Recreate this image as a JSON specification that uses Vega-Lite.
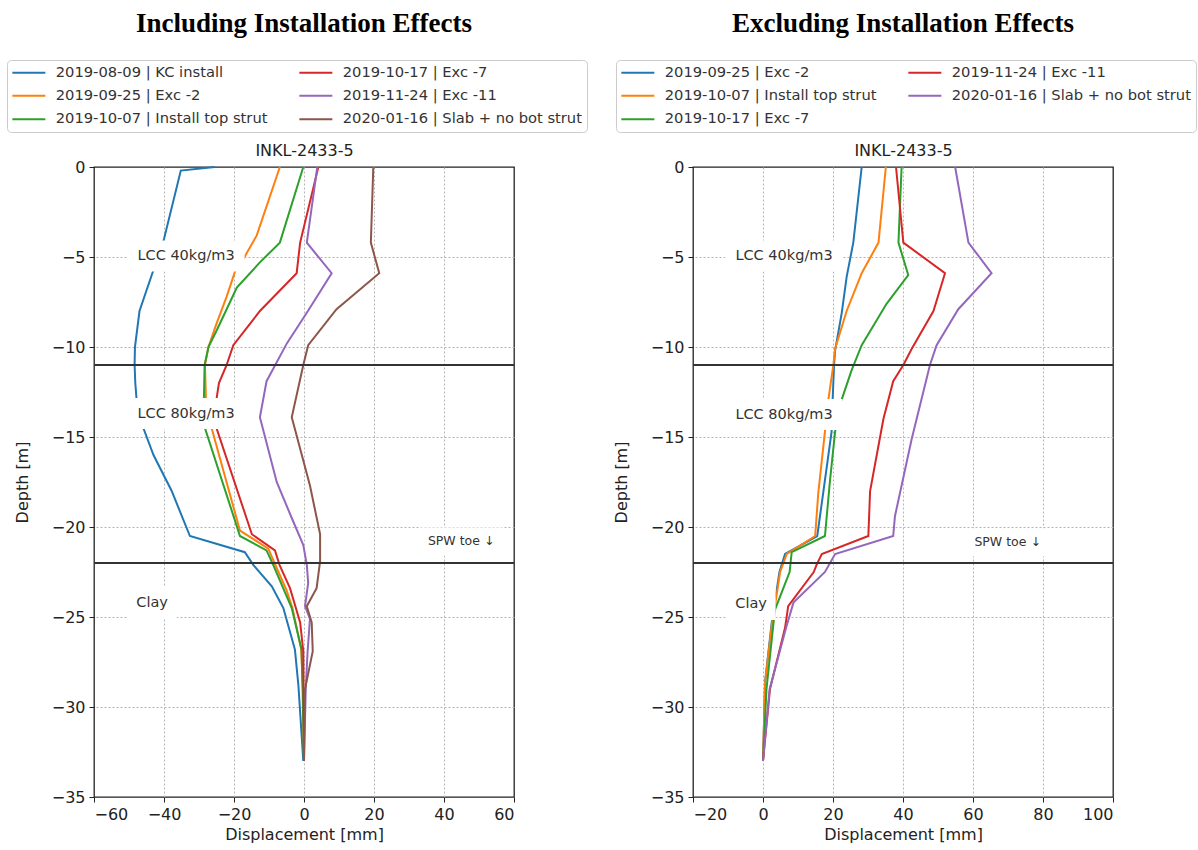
{
  "$schema": "https://vega.github.io/schema/vega-lite/v6.json",
  "background": "white",
  "padding": {"left": 5, "top": 8, "right": 3, "bottom": 5},
  "datasets": {
    "incl": [
      {"series": "2019-08-09 | KC install", "depth": 0, "disp": -25.5},
      {"series": "2019-08-09 | KC install", "depth": -0.2, "disp": -35.2},
      {"series": "2019-08-09 | KC install", "depth": -4, "disp": -40},
      {"series": "2019-08-09 | KC install", "depth": -6, "disp": -43.5},
      {"series": "2019-08-09 | KC install", "depth": -8, "disp": -47},
      {"series": "2019-08-09 | KC install", "depth": -10, "disp": -48.3},
      {"series": "2019-08-09 | KC install", "depth": -11, "disp": -48.4},
      {"series": "2019-08-09 | KC install", "depth": -12, "disp": -48.2},
      {"series": "2019-08-09 | KC install", "depth": -13, "disp": -47.8},
      {"series": "2019-08-09 | KC install", "depth": -14.5, "disp": -45.9},
      {"series": "2019-08-09 | KC install", "depth": -16, "disp": -43},
      {"series": "2019-08-09 | KC install", "depth": -18, "disp": -37.8},
      {"series": "2019-08-09 | KC install", "depth": -20.5, "disp": -32.6},
      {"series": "2019-08-09 | KC install", "depth": -21.4, "disp": -16.9},
      {"series": "2019-08-09 | KC install", "depth": -22.1, "disp": -14.5},
      {"series": "2019-08-09 | KC install", "depth": -23.3, "disp": -9.2},
      {"series": "2019-08-09 | KC install", "depth": -24.5, "disp": -5.9},
      {"series": "2019-08-09 | KC install", "depth": -26.8, "disp": -2.6},
      {"series": "2019-08-09 | KC install", "depth": -28.8, "disp": -1.6},
      {"series": "2019-08-09 | KC install", "depth": -33, "disp": -0.2},

      {"series": "2019-09-25 | Exc -2", "depth": 0, "disp": -6.9},
      {"series": "2019-09-25 | Exc -2", "depth": -3.8, "disp": -13.5},
      {"series": "2019-09-25 | Exc -2", "depth": -5.1, "disp": -17.3},
      {"series": "2019-09-25 | Exc -2", "depth": -5.8, "disp": -19.7},
      {"series": "2019-09-25 | Exc -2", "depth": -7.2, "disp": -22.1},
      {"series": "2019-09-25 | Exc -2", "depth": -8.7, "disp": -25},
      {"series": "2019-09-25 | Exc -2", "depth": -10, "disp": -27.3},
      {"series": "2019-09-25 | Exc -2", "depth": -11, "disp": -28.3},
      {"series": "2019-09-25 | Exc -2", "depth": -12.9, "disp": -28},
      {"series": "2019-09-25 | Exc -2", "depth": -14.5, "disp": -26.4},
      {"series": "2019-09-25 | Exc -2", "depth": -20.2, "disp": -18.3},
      {"series": "2019-09-25 | Exc -2", "depth": -21.2, "disp": -10.2},
      {"series": "2019-09-25 | Exc -2", "depth": -22.5, "disp": -7.3},
      {"series": "2019-09-25 | Exc -2", "depth": -23.5, "disp": -5},
      {"series": "2019-09-25 | Exc -2", "depth": -24.5, "disp": -3.3},
      {"series": "2019-09-25 | Exc -2", "depth": -26.8, "disp": -0.8},
      {"series": "2019-09-25 | Exc -2", "depth": -29, "disp": -0.3},
      {"series": "2019-09-25 | Exc -2", "depth": -33, "disp": 0},

      {"series": "2019-10-07 | Install top strut", "depth": 0, "disp": -0.2},
      {"series": "2019-10-07 | Install top strut", "depth": -4.2, "disp": -6.9},
      {"series": "2019-10-07 | Install top strut", "depth": -5.3, "disp": -12.6},
      {"series": "2019-10-07 | Install top strut", "depth": -6.7, "disp": -19.2},
      {"series": "2019-10-07 | Install top strut", "depth": -7.9, "disp": -22.1},
      {"series": "2019-10-07 | Install top strut", "depth": -9.1, "disp": -25},
      {"series": "2019-10-07 | Install top strut", "depth": -10, "disp": -27.3},
      {"series": "2019-10-07 | Install top strut", "depth": -11, "disp": -28.4},
      {"series": "2019-10-07 | Install top strut", "depth": -12.9, "disp": -28.6},
      {"series": "2019-10-07 | Install top strut", "depth": -14.5, "disp": -28.3},
      {"series": "2019-10-07 | Install top strut", "depth": -20.5, "disp": -18.3},
      {"series": "2019-10-07 | Install top strut", "depth": -21.3, "disp": -10.7},
      {"series": "2019-10-07 | Install top strut", "depth": -22.1, "disp": -8.8},
      {"series": "2019-10-07 | Install top strut", "depth": -24.5, "disp": -3.5},
      {"series": "2019-10-07 | Install top strut", "depth": -26.8, "disp": -0.7},
      {"series": "2019-10-07 | Install top strut", "depth": -29, "disp": -0.4},
      {"series": "2019-10-07 | Install top strut", "depth": -33, "disp": 0},

      {"series": "2019-10-17 | Exc -7", "depth": 0, "disp": 4.1},
      {"series": "2019-10-17 | Exc -7", "depth": -4.2, "disp": -1.1},
      {"series": "2019-10-17 | Exc -7", "depth": -5.9, "disp": -2.1},
      {"series": "2019-10-17 | Exc -7", "depth": -8, "disp": -12.6},
      {"series": "2019-10-17 | Exc -7", "depth": -9.9, "disp": -20.2},
      {"series": "2019-10-17 | Exc -7", "depth": -11, "disp": -22.1},
      {"series": "2019-10-17 | Exc -7", "depth": -12, "disp": -24.3},
      {"series": "2019-10-17 | Exc -7", "depth": -12.9, "disp": -25},
      {"series": "2019-10-17 | Exc -7", "depth": -14.5, "disp": -25},
      {"series": "2019-10-17 | Exc -7", "depth": -20.4, "disp": -14.9},
      {"series": "2019-10-17 | Exc -7", "depth": -21.3, "disp": -8.3},
      {"series": "2019-10-17 | Exc -7", "depth": -22.1, "disp": -7},
      {"series": "2019-10-17 | Exc -7", "depth": -23.4, "disp": -4},
      {"series": "2019-10-17 | Exc -7", "depth": -25.3, "disp": -1.1},
      {"series": "2019-10-17 | Exc -7", "depth": -26.9, "disp": -0.2},
      {"series": "2019-10-17 | Exc -7", "depth": -33, "disp": 0},

      {"series": "2019-11-24 | Exc -11", "depth": 0, "disp": 3.8},
      {"series": "2019-11-24 | Exc -11", "depth": -4.2, "disp": 0.8},
      {"series": "2019-11-24 | Exc -11", "depth": -5.9, "disp": 7.9},
      {"series": "2019-11-24 | Exc -11", "depth": -8.1, "disp": 0.8},
      {"series": "2019-11-24 | Exc -11", "depth": -9.8, "disp": -4.9},
      {"series": "2019-11-24 | Exc -11", "depth": -11.9, "disp": -10.7},
      {"series": "2019-11-24 | Exc -11", "depth": -13.9, "disp": -12.6},
      {"series": "2019-11-24 | Exc -11", "depth": -17.5, "disp": -7.8},
      {"series": "2019-11-24 | Exc -11", "depth": -19.5, "disp": -3.5},
      {"series": "2019-11-24 | Exc -11", "depth": -21, "disp": -0.2},
      {"series": "2019-11-24 | Exc -11", "depth": -22.1, "disp": 0.8},
      {"series": "2019-11-24 | Exc -11", "depth": -23.1, "disp": 1.2},
      {"series": "2019-11-24 | Exc -11", "depth": -24.4, "disp": 0.3},
      {"series": "2019-11-24 | Exc -11", "depth": -25.1, "disp": 1.7},
      {"series": "2019-11-24 | Exc -11", "depth": -27, "disp": 1},
      {"series": "2019-11-24 | Exc -11", "depth": -29, "disp": 0.5},
      {"series": "2019-11-24 | Exc -11", "depth": -33, "disp": 0},

      {"series": "2020-01-16 | Slab + no bot strut", "depth": 0, "disp": 19.8},
      {"series": "2020-01-16 | Slab + no bot strut", "depth": -4.2, "disp": 19.1},
      {"series": "2020-01-16 | Slab + no bot strut", "depth": -5.9, "disp": 21.5},
      {"series": "2020-01-16 | Slab + no bot strut", "depth": -7.9, "disp": 9.3},
      {"series": "2020-01-16 | Slab + no bot strut", "depth": -9.9, "disp": 1.2},
      {"series": "2020-01-16 | Slab + no bot strut", "depth": -11, "disp": -0.2},
      {"series": "2020-01-16 | Slab + no bot strut", "depth": -13.9, "disp": -3.5},
      {"series": "2020-01-16 | Slab + no bot strut", "depth": -17.7, "disp": 1.7},
      {"series": "2020-01-16 | Slab + no bot strut", "depth": -20.4, "disp": 4.6},
      {"series": "2020-01-16 | Slab + no bot strut", "depth": -21.9, "disp": 4.6},
      {"series": "2020-01-16 | Slab + no bot strut", "depth": -23.4, "disp": 3.6},
      {"series": "2020-01-16 | Slab + no bot strut", "depth": -24.4, "disp": 0.8},
      {"series": "2020-01-16 | Slab + no bot strut", "depth": -25.3, "disp": 2.2},
      {"series": "2020-01-16 | Slab + no bot strut", "depth": -26.9, "disp": 2.5},
      {"series": "2020-01-16 | Slab + no bot strut", "depth": -29, "disp": 0.3},
      {"series": "2020-01-16 | Slab + no bot strut", "depth": -33, "disp": 0}
    ],
    "excl": [
      {"series": "2019-09-25 | Exc -2", "depth": 0, "disp": 28.2},
      {"series": "2019-09-25 | Exc -2", "depth": -4.2, "disp": 25.8},
      {"series": "2019-09-25 | Exc -2", "depth": -6.1, "disp": 23.9},
      {"series": "2019-09-25 | Exc -2", "depth": -8.1, "disp": 22.5},
      {"series": "2019-09-25 | Exc -2", "depth": -10.2, "disp": 20.6},
      {"series": "2019-09-25 | Exc -2", "depth": -11, "disp": 20.3},
      {"series": "2019-09-25 | Exc -2", "depth": -12.9, "disp": 19.9},
      {"series": "2019-09-25 | Exc -2", "depth": -14.7, "disp": 19.6},
      {"series": "2019-09-25 | Exc -2", "depth": -18.1, "disp": 17.2},
      {"series": "2019-09-25 | Exc -2", "depth": -20.5, "disp": 15.5},
      {"series": "2019-09-25 | Exc -2", "depth": -21.5, "disp": 6.3},
      {"series": "2019-09-25 | Exc -2", "depth": -22.5, "disp": 4.7},
      {"series": "2019-09-25 | Exc -2", "depth": -24.4, "disp": 3.2},
      {"series": "2019-09-25 | Exc -2", "depth": -25.3, "disp": 2.5},
      {"series": "2019-09-25 | Exc -2", "depth": -28.6, "disp": 0.6},
      {"series": "2019-09-25 | Exc -2", "depth": -33, "disp": 0},

      {"series": "2019-10-07 | Install top strut", "depth": 0, "disp": 35.1},
      {"series": "2019-10-07 | Install top strut", "depth": -4.2, "disp": 33},
      {"series": "2019-10-07 | Install top strut", "depth": -5.9, "disp": 28.2},
      {"series": "2019-10-07 | Install top strut", "depth": -8, "disp": 23.9},
      {"series": "2019-10-07 | Install top strut", "depth": -10.1, "disp": 20.6},
      {"series": "2019-10-07 | Install top strut", "depth": -11, "disp": 20.1},
      {"series": "2019-10-07 | Install top strut", "depth": -12.9, "disp": 18.7},
      {"series": "2019-10-07 | Install top strut", "depth": -14.7, "disp": 17.7},
      {"series": "2019-10-07 | Install top strut", "depth": -18.1, "disp": 15.8},
      {"series": "2019-10-07 | Install top strut", "depth": -20.5, "disp": 14.9},
      {"series": "2019-10-07 | Install top strut", "depth": -21.5, "disp": 6.8},
      {"series": "2019-10-07 | Install top strut", "depth": -22.5, "disp": 4.9},
      {"series": "2019-10-07 | Install top strut", "depth": -24.4, "disp": 3.4},
      {"series": "2019-10-07 | Install top strut", "depth": -25.3, "disp": 2.6},
      {"series": "2019-10-07 | Install top strut", "depth": -28.6, "disp": 0.6},
      {"series": "2019-10-07 | Install top strut", "depth": -33, "disp": 0},

      {"series": "2019-10-17 | Exc -7", "depth": 0, "disp": 39.6},
      {"series": "2019-10-17 | Exc -7", "depth": -4.2, "disp": 38.7},
      {"series": "2019-10-17 | Exc -7", "depth": -6, "disp": 41.5},
      {"series": "2019-10-17 | Exc -7", "depth": -7.6, "disp": 35.3},
      {"series": "2019-10-17 | Exc -7", "depth": -9.9, "disp": 28.2},
      {"series": "2019-10-17 | Exc -7", "depth": -11.3, "disp": 25.3},
      {"series": "2019-10-17 | Exc -7", "depth": -13.2, "disp": 22},
      {"series": "2019-10-17 | Exc -7", "depth": -14.7, "disp": 20.6},
      {"series": "2019-10-17 | Exc -7", "depth": -17.5, "disp": 19.1},
      {"series": "2019-10-17 | Exc -7", "depth": -20.5, "disp": 17.7},
      {"series": "2019-10-17 | Exc -7", "depth": -21.4, "disp": 8.2},
      {"series": "2019-10-17 | Exc -7", "depth": -22.5, "disp": 7.6},
      {"series": "2019-10-17 | Exc -7", "depth": -24.6, "disp": 3.4},
      {"series": "2019-10-17 | Exc -7", "depth": -29, "disp": 1},
      {"series": "2019-10-17 | Exc -7", "depth": -33, "disp": 0},

      {"series": "2019-11-24 | Exc -11", "depth": 0, "disp": 38},
      {"series": "2019-11-24 | Exc -11", "depth": -4.2, "disp": 40.1},
      {"series": "2019-11-24 | Exc -11", "depth": -5.9, "disp": 52},
      {"series": "2019-11-24 | Exc -11", "depth": -8, "disp": 48.7},
      {"series": "2019-11-24 | Exc -11", "depth": -10.1, "disp": 42.5},
      {"series": "2019-11-24 | Exc -11", "depth": -11, "disp": 40.1},
      {"series": "2019-11-24 | Exc -11", "depth": -11.9, "disp": 37.2},
      {"series": "2019-11-24 | Exc -11", "depth": -14, "disp": 34.4},
      {"series": "2019-11-24 | Exc -11", "depth": -18, "disp": 30.6},
      {"series": "2019-11-24 | Exc -11", "depth": -20.5, "disp": 30.1},
      {"series": "2019-11-24 | Exc -11", "depth": -21.5, "disp": 16.8},
      {"series": "2019-11-24 | Exc -11", "depth": -22.1, "disp": 15.3},
      {"series": "2019-11-24 | Exc -11", "depth": -22.5, "disp": 14.5},
      {"series": "2019-11-24 | Exc -11", "depth": -24.4, "disp": 7.2},
      {"series": "2019-11-24 | Exc -11", "depth": -25.6, "disp": 6.3},
      {"series": "2019-11-24 | Exc -11", "depth": -29, "disp": 2},
      {"series": "2019-11-24 | Exc -11", "depth": -33, "disp": 0},

      {"series": "2020-01-16 | Slab + no bot strut", "depth": 0, "disp": 54.9},
      {"series": "2020-01-16 | Slab + no bot strut", "depth": -4.2, "disp": 58.7},
      {"series": "2020-01-16 | Slab + no bot strut", "depth": -5.9, "disp": 65.3},
      {"series": "2020-01-16 | Slab + no bot strut", "depth": -7.9, "disp": 55.8},
      {"series": "2020-01-16 | Slab + no bot strut", "depth": -9.9, "disp": 49.6},
      {"series": "2020-01-16 | Slab + no bot strut", "depth": -11, "disp": 47.7},
      {"series": "2020-01-16 | Slab + no bot strut", "depth": -15.1, "disp": 42.5},
      {"series": "2020-01-16 | Slab + no bot strut", "depth": -19.4, "disp": 37.7},
      {"series": "2020-01-16 | Slab + no bot strut", "depth": -20.5, "disp": 37.2},
      {"series": "2020-01-16 | Slab + no bot strut", "depth": -21.5, "disp": 20.6},
      {"series": "2020-01-16 | Slab + no bot strut", "depth": -22.5, "disp": 17.7},
      {"series": "2020-01-16 | Slab + no bot strut", "depth": -24.2, "disp": 8.7},
      {"series": "2020-01-16 | Slab + no bot strut", "depth": -25.6, "disp": 6.6},
      {"series": "2020-01-16 | Slab + no bot strut", "depth": -29, "disp": 1.9},
      {"series": "2020-01-16 | Slab + no bot strut", "depth": -33, "disp": 0}
    ],
    "layers": [{"depth": -11}, {"depth": -22}],
    "notesIncl": [
      {"label": "LCC 40kg/m3", "x": -33.7, "depth": -4.95},
      {"label": "LCC 80kg/m3", "x": -33.7, "depth": -13.7},
      {"label": "Clay", "x": -43.4, "depth": -24.2},
      {"label": "SPW toe ↓", "x": 44.9, "depth": -20.8}
    ],
    "notesExcl": [
      {"label": "LCC 40kg/m3", "x": 6, "depth": -4.95},
      {"label": "LCC 80kg/m3", "x": 6, "depth": -13.75},
      {"label": "Clay", "x": -3.4, "depth": -24.3},
      {"label": "SPW toe ↓", "x": 69.9, "depth": -20.85}
    ]
  },
  "hconcat": [
    {
      "width": 420,
      "height": 630,
      "title": {"text": "Including Installation Effects"},
      "layer": [
        {
          "data": {"name": "incl"},
          "mark": {"type": "line", "strokeWidth": 2},
          "encoding": {
            "x": {"field": "disp", "type": "quantitative", "scale": {"domain": [-60, 60], "nice": false, "zero": false},
                  "axis": {"title": "Displacement [mm]", "values": [-60, -40, -20, 0, 20, 40, 60], "grid": false}},
            "y": {"field": "depth", "type": "quantitative", "scale": {"domain": [-35, 0], "nice": false, "zero": false},
                  "axis": {"title": "Depth [m]", "values": [-35, -30, -25, -20, -15, -10, -5, 0], "grid": false}},
            "order": {"field": "depth", "sort": "descending"},
            "color": {"field": "series", "type": "nominal",
              "scale": {
                "domain": ["2019-08-09 | KC install", "2019-09-25 | Exc -2", "2019-10-07 | Install top strut", "2019-10-17 | Exc -7", "2019-11-24 | Exc -11", "2020-01-16 | Slab + no bot strut"],
                "range": ["#1f77b4", "#ff7f0e", "#2ca02c", "#d62728", "#9467bd", "#8c564b"]},
              "legend": {"title": null, "orient": "none", "legendX": -87, "legendY": -107, "columns": 2}}
          }
        },
        {
          "data": {"name": "layers"},
          "mark": {"type": "rule", "color": "#333333", "strokeWidth": 2.2},
          "encoding": {"y": {"field": "depth", "type": "quantitative",
            "axis": {"values": [-30, -25, -20, -15, -10, -5], "grid": true, "labels": false, "ticks": false, "domain": false, "title": null}}}
        },
        {
          "data": {"name": "notesIncl"},
          "mark": {"type": "point", "filled": true, "color": "white", "opacity": 1, "size": 400, "strokeWidth": 0},
          "encoding": {
            "x": {"field": "x", "type": "quantitative",
              "axis": {"values": [-40, -20, 0, 20, 40], "grid": true, "labels": false, "ticks": false, "domain": false, "title": null}},
            "y": {"field": "depth", "type": "quantitative", "axis": null},
            "shape": {"field": "label", "type": "nominal", "legend": null,
              "scale": {"domain": ["LCC 40kg/m3", "LCC 80kg/m3", "Clay", "SPW toe ↓"],
                "range": ["M-5.85,-1.55L5.85,-1.55L5.85,1.55L-5.85,1.55Z", "M-5.85,-1.55L5.85,-1.55L5.85,1.55L-5.85,1.55Z", "M-2.45,-1.55L2.45,-1.55L2.45,1.55L-2.45,1.55Z", "M-4.2,-1.4L4.2,-1.4L4.2,1.4L-4.2,1.4Z"]}}
          }
        },
        {
          "data": {"name": "notesIncl"},
          "transform": [{"filter": "datum.label !== 'SPW toe ↓'"}],
          "mark": {"type": "text", "fontSize": 14.5, "color": "#333333", "font": "DejaVu Sans", "align": "center", "baseline": "middle"},
          "encoding": {
            "x": {"field": "x", "type": "quantitative",
                  "axis": {"orient": "top", "title": "INKL-2433-5", "labels": false, "ticks": false, "domain": false, "grid": false, "titlePadding": 9}},
            "y": {"field": "depth", "type": "quantitative", "axis": null},
            "text": {"field": "label"}
          }
        },
        {
          "data": {"name": "notesIncl"},
          "transform": [{"filter": "datum.label === 'SPW toe ↓'"}],
          "mark": {"type": "text", "fontSize": 12.5, "color": "#333333", "font": "DejaVu Sans", "align": "center", "baseline": "middle"},
          "encoding": {
            "x": {"field": "x", "type": "quantitative", "axis": null},
            "y": {"field": "depth", "type": "quantitative", "axis": null},
            "text": {"field": "label"}
          }
        }
      ],
      "resolve": {"axis": {"x": "independent", "y": "independent"}}
    },
    {
      "width": 420,
      "height": 630,
      "title": {"text": "Excluding Installation Effects"},
      "layer": [
        {
          "data": {"name": "excl"},
          "mark": {"type": "line", "strokeWidth": 2},
          "encoding": {
            "x": {"field": "disp", "type": "quantitative", "scale": {"domain": [-20, 100], "nice": false, "zero": false},
                  "axis": {"title": "Displacement [mm]", "values": [-20, 0, 20, 40, 60, 80, 100], "grid": false}},
            "y": {"field": "depth", "type": "quantitative", "scale": {"domain": [-35, 0], "nice": false, "zero": false},
                  "axis": {"title": "Depth [m]", "values": [-35, -30, -25, -20, -15, -10, -5, 0], "grid": false}},
            "order": {"field": "depth", "sort": "descending"},
            "color": {"field": "series", "type": "nominal",
              "scale": {
                "domain": ["2019-09-25 | Exc -2", "2019-10-07 | Install top strut", "2019-10-17 | Exc -7", "2019-11-24 | Exc -11", "2020-01-16 | Slab + no bot strut"],
                "range": ["#1f77b4", "#ff7f0e", "#2ca02c", "#d62728", "#9467bd"]},
              "legend": {"title": null, "orient": "none", "legendX": -77, "legendY": -107, "columns": 2}}
          }
        },
        {
          "data": {"name": "layers"},
          "mark": {"type": "rule", "color": "#333333", "strokeWidth": 2.2},
          "encoding": {"y": {"field": "depth", "type": "quantitative",
            "axis": {"values": [-30, -25, -20, -15, -10, -5], "grid": true, "labels": false, "ticks": false, "domain": false, "title": null}}}
        },
        {
          "data": {"name": "notesExcl"},
          "mark": {"type": "point", "filled": true, "color": "white", "opacity": 1, "size": 400, "strokeWidth": 0},
          "encoding": {
            "x": {"field": "x", "type": "quantitative",
              "axis": {"values": [0, 20, 40, 60, 80], "grid": true, "labels": false, "ticks": false, "domain": false, "title": null}},
            "y": {"field": "depth", "type": "quantitative", "axis": null},
            "shape": {"field": "label", "type": "nominal", "legend": null,
              "scale": {"domain": ["LCC 40kg/m3", "LCC 80kg/m3", "Clay", "SPW toe ↓"],
                "range": ["M-5.85,-1.55L5.85,-1.55L5.85,1.55L-5.85,1.55Z", "M-5.85,-1.55L5.85,-1.55L5.85,1.55L-5.85,1.55Z", "M-2.45,-1.55L2.45,-1.55L2.45,1.55L-2.45,1.55Z", "M-4.2,-1.4L4.2,-1.4L4.2,1.4L-4.2,1.4Z"]}}
          }
        },
        {
          "data": {"name": "notesExcl"},
          "transform": [{"filter": "datum.label !== 'SPW toe ↓'"}],
          "mark": {"type": "text", "fontSize": 14.5, "color": "#333333", "font": "DejaVu Sans", "align": "center", "baseline": "middle"},
          "encoding": {
            "x": {"field": "x", "type": "quantitative",
                  "axis": {"orient": "top", "title": "INKL-2433-5", "labels": false, "ticks": false, "domain": false, "grid": false, "titlePadding": 9}},
            "y": {"field": "depth", "type": "quantitative", "axis": null},
            "text": {"field": "label"}
          }
        },
        {
          "data": {"name": "notesExcl"},
          "transform": [{"filter": "datum.label === 'SPW toe ↓'"}],
          "mark": {"type": "text", "fontSize": 12.5, "color": "#333333", "font": "DejaVu Sans", "align": "center", "baseline": "middle"},
          "encoding": {
            "x": {"field": "x", "type": "quantitative", "axis": null},
            "y": {"field": "depth", "type": "quantitative", "axis": null},
            "text": {"field": "label"}
          }
        }
      ],
      "resolve": {"axis": {"x": "independent", "y": "independent"}}
    }
  ],
  "spacing": 179,
  "bounds": "flush",
  "resolve": {"scale": {"color": "independent", "x": "independent", "shape": "shared"}, "legend": {"color": "independent"}},
  "config": {
    "font": "DejaVu Sans",
    "view": {"stroke": "#222222", "strokeWidth": 1.3},
    "title": {"font": "Liberation Serif", "fontSize": 27, "fontWeight": "bold", "color": "black", "anchor": "middle", "offset": 22},
    "axis": {
      "labelFont": "DejaVu Sans", "labelFontSize": 16, "labelColor": "#222222",
      "titleFont": "DejaVu Sans", "titleFontSize": 16, "titleFontWeight": "normal", "titleColor": "#222222",
      "domain": false, "tickColor": "#222222", "tickSize": 5, "labelPadding": 4,
      "gridColor": "#b5b5b5", "gridDash": [2, 2], "gridWidth": 1
    },
    "axisY": {"titlePadding": 21},
    "axisX": {"titlePadding": 4},
    "legend": {
      "labelFont": "DejaVu Sans", "labelFontSize": 14.7, "labelColor": "#333333", "labelLimit": 400,
      "symbolType": "M-3.3,0L3.3,0", "symbolSize": 100, "symbolStrokeWidth": 2, "symbolFillColor": "transparent",
      "symbolOffset": 9.5, "labelOffset": 19.5, "columnPadding": 27, "rowPadding": 7.5, "padding": 5,
      "strokeColor": "#cccccc", "fillColor": "white", "cornerRadius": 4
    }
  }
}
